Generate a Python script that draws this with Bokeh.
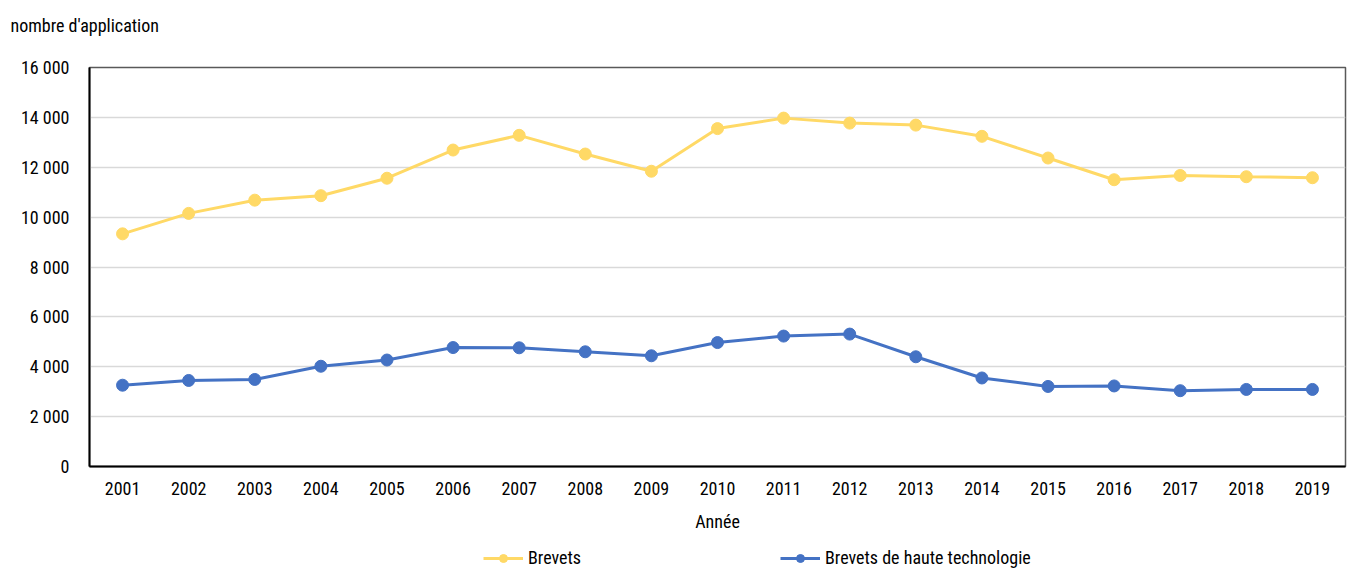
from bokeh.plotting import figure
from bokeh.layouts import column
from bokeh.models import FixedTicker, Legend, LegendItem, Title
from bokeh.embed import file_html
from bokeh.resources import INLINE

# Patent applications per year
years = list(range(2001, 2020))
brevets = [9330, 10150, 10680, 10860, 11560, 12690, 13280, 12530, 11840, 13550,
           13970, 13770, 13690, 13240, 12370, 11500, 11670, 11620, 11580]
brevets_ht = [3260, 3450, 3490, 4020, 4270, 4770, 4760, 4600, 4440, 4970,
              5230, 5310, 4400, 3550, 3210, 3230, 3040, 3090, 3090]

y_ticks = [0, 2000, 4000, 6000, 8000, 10000, 12000, 14000, 16000]
y_tick_labels = ["0", "2 000", "4 000", "6 000", "8 000", "10 000", "12 000", "14 000", "16 000"]

series_names = ["Brevets", "Brevets de haute technologie"]
FONT = "Roboto Condensed"
FS = "18px"
YELLOW = "#FFD966"
BLUE = "#4472C4"

p = figure(frame_width=1256, frame_height=399, output_backend="svg", toolbar_location=None,
           x_range=(2000.5, 2019.5), y_range=(0, 16000),
           min_border_left=89, min_border_right=8, min_border_top=67, min_border_bottom=0)

p.title.text = "nombre d'application"
p.title.align = "left"
p.title.vertical_align = "top"
p.title.offset = -79
p.title.standoff = 24
p.title.text_font = FONT
p.title.text_font_size = FS
p.title.text_font_style = "normal"
p.title.text_color = "#000000"

# blank strip between the unit caption and the plot frame
p.add_layout(Title(text=" ", text_font_size="12px", standoff=2), "above")

p.outline_line_color = "#595959"
p.outline_line_width = 1.5

# axes
p.xaxis.ticker = FixedTicker(ticks=years)
p.xaxis.axis_label = "Année"
p.yaxis.ticker = FixedTicker(ticks=y_ticks)
p.yaxis.major_label_overrides = {t: l for t, l in zip(y_ticks, y_tick_labels)}
for ax in (p.xaxis[0], p.yaxis[0]):
    ax.axis_line_color = "#000000"
    ax.axis_line_width = 2
    ax.major_tick_line_color = None
    ax.minor_tick_line_color = None
    ax.major_label_text_font = FONT
    ax.major_label_text_font_size = FS
    ax.major_label_text_color = "#000000"
    ax.axis_label_text_font = FONT
    ax.axis_label_text_font_size = FS
    ax.axis_label_text_font_style = "normal"
    ax.axis_label_text_color = "#000000"
p.xaxis.major_label_standoff = 9
p.xaxis.axis_label_standoff = 13
p.yaxis.major_label_standoff = 14

p.xgrid.grid_line_color = None
p.ygrid.grid_line_color = "#D9D9D9"
p.ygrid.grid_line_width = 1.5

p.line(years, brevets, line_color=YELLOW, line_width=3)
p.scatter(years, brevets, size=12, fill_color=YELLOW, line_color=YELLOW)
p.line(years, brevets_ht, line_color=BLUE, line_width=3)
p.scatter(years, brevets_ht, size=12, fill_color=BLUE, line_color=BLUE)

# legend strip under the chart; its series sit outside the strip's ranges,
# so only the legend keys are visible
key = figure(width=1353, height=36, output_backend="svg", toolbar_location=None,
             x_axis_type=None, y_axis_type=None, x_range=(0, 1), y_range=(0, 1),
             min_border=0)
key.outline_line_color = None
k1l = key.line(years, brevets, line_color=YELLOW, line_width=3)
k1s = key.scatter(years, brevets, size=12, fill_color=YELLOW, line_color=YELLOW)
k2l = key.line(years, brevets_ht, line_color=BLUE, line_width=3)
k2s = key.scatter(years, brevets_ht, size=12, fill_color=BLUE, line_color=BLUE)

legend = Legend(items=[LegendItem(label=series_names[0], renderers=[k1l, k1s]),
                       LegendItem(label=series_names[1], renderers=[k2l, k2s])],
                orientation="horizontal", location=(394, 2),
                glyph_width=40, glyph_height=20, label_standoff=5, spacing=199,
                padding=0, margin=0,
                border_line_color=None, background_fill_alpha=0,
                label_text_font=FONT, label_text_font_size=FS,
                label_text_color="#000000")
key.add_layout(legend, "center")

layout = column(p, key, spacing=0)

open("out.html", "w").write(file_html(layout, INLINE))
